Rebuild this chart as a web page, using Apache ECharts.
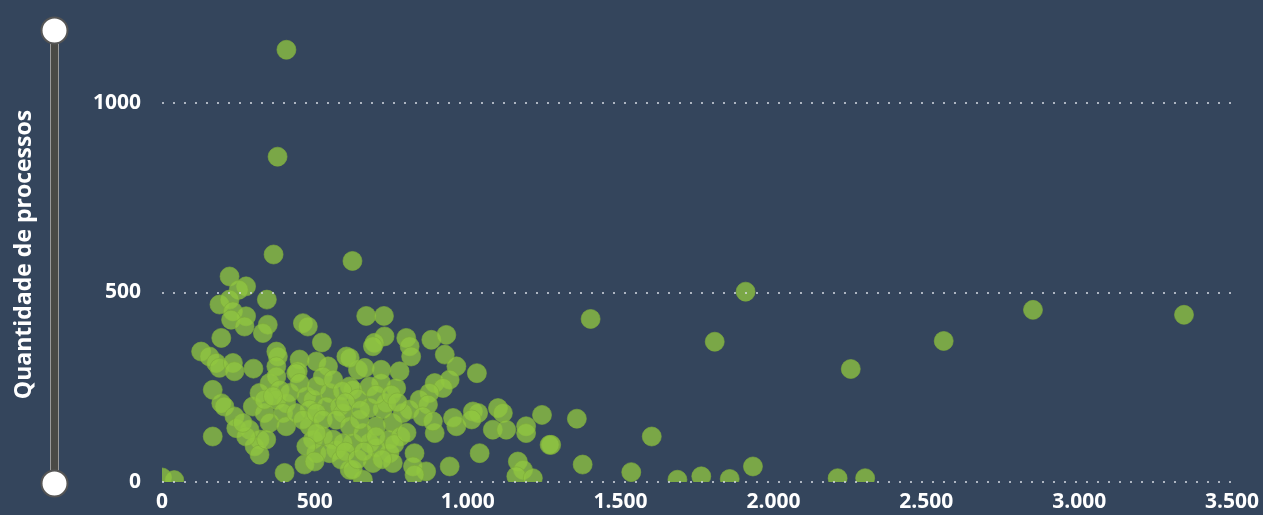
<!DOCTYPE html>
<html>
<head>
  <meta charset="utf-8">
  <title>Quantidade de processos</title>
  <script src="https://cdn.jsdelivr.net/npm/echarts@6/dist/echarts.min.js"></script>
  <style>
    html, body { margin: 0; padding: 0; background: #34455c; }
  </style>
</head>
<body>
<div id="main" style="width: 1263px;height:515px;"></div>

<script type="text/javascript">
  // [x, quantidade]
  var pontos = [
    [407,1140],[378,858],[365,600],[623,583],[1909,502],[1402,430],[1808,370],[2557,372],
    [2849,454],[3343,441],[2253,298],[1602,120],[1357,167],[1273,98],[1376,46],[1535,26],
    [1686,6],[1764,15],[1857,8],[1933,41],[2210,10],[2300,10],[0,12],[40,5],
    [221,542],[275,516],[251,507],[343,481],[188,468],[221,481],[232,450],[275,437],
    [226,428],[270,410],[346,415],[330,393],[461,419],[477,410],[523,368],[194,380],
    [128,344],[155,331],[177,314],[188,301],[232,314],[237,292],[299,299],[374,344],
    [379,331],[374,305],[450,323],[444,292],[505,318],[543,305],[603,331],[641,296],
    [166,243],[194,208],[204,199],[237,173],[243,142],[286,138],[297,199],[335,182],
    [352,156],[319,112],[303,94],[319,72],[341,112],[166,120],[352,261],[374,278],
    [385,243],[374,217],[406,208],[396,182],[417,235],[406,147],[439,287],[450,261],
    [472,226],[494,217],[483,191],[505,252],[526,278],[548,235],[537,199],[581,199],
    [592,182],[614,252],[483,147],[494,112],[526,120],[559,112],[570,85],[505,76],
    [466,46],[401,24],[614,32],
    [319,235],[335,217],[363,226],[439,182],[461,164],[505,182],[526,164],[570,164],
    [614,147],[624,103],[592,103],[505,129],[472,94],[548,76],[586,59],[499,54],
    [275,120],[264,156],
    [668,438],[726,438],[728,384],[695,367],[690,358],[799,380],[810,358],[815,331],
    [881,375],[930,388],[925,336],[963,305],[1030,287],[614,327],[663,301],[717,296],
    [777,292],[766,248],[717,261],[679,252],[624,243],[892,261],[941,270],[919,248],
    [875,235],[843,217],[870,204],[810,191],[853,173],[892,129],[886,160],[963,147],
    [952,169],[1017,186],[1034,182],[1099,195],[1115,182],[1082,138],[1126,138],[1191,147],
    [1191,129],[1243,177],[1268,98],[1039,76],[941,41],[1164,54],[1181,32],[1159,15],
    [1213,10],[864,28],[826,76],[821,41],[826,19],[788,182],[755,156],[744,112],
    [744,76],[755,50],[690,50],[679,103],[657,129],[646,164],[701,147],[722,191],
    [679,195],[657,6],[624,32],[734,208],
    [560,270],[590,240],[640,220],[600,210],[650,190],[700,230],[750,230],[770,210],
    [780,120],[700,90],[720,60],[760,100],[800,130],[600,80],[640,60],[660,80],
    [700,120],[1013,165]
  ];
  var yMax = 1200;
  var yStep = 500;
  var xMax = 3500;
  var xStep = 500;

  var fundo = '#34455c';
  var fonte = '"Open Sans", "Noto Sans", sans-serif';

  var myChart = echarts.init(document.getElementById('main'));

  var option = {
    backgroundColor: fundo,
    animation: false,
    grid: { left: 162, right: 31, top: 27, bottom: 33 },
    xAxis: {
      type: 'value',
      min: 0,
      max: xMax,
      interval: xStep,
      z: 60,
      axisLine: { show: false },
      axisTick: { show: false },
      splitLine: { show: false },
      axisLabel: {
        color: '#fff',
        fontWeight: 'bold',
        fontSize: 21,
        fontFamily: fonte,
        margin: 10,
        formatter: function (v) {
          return String(v).replace(/\B(?=(\d{3})+(?!\d))/g, '.');
        }
      }
    },
    yAxis: {
      type: 'value',
      min: 0,
      max: yMax,
      interval: yStep,
      z: 60,
      name: 'Quantidade de processos',
      nameLocation: 'middle',
      nameGap: 126,
      nameTextStyle: { color: '#fff', fontWeight: 'bold', fontSize: 23, fontFamily: fonte },
      axisLine: { show: false },
      axisTick: { show: false },
      axisLabel: {
        color: '#fff',
        fontWeight: 'bold',
        fontSize: 21,
        fontFamily: fonte,
        margin: 21,
        showMaxLabel: false,
        formatter: function (v) { return String(v); }
      },
      splitLine: {
        show: true,
        showMaxLine: false,
        lineStyle: { color: 'rgba(215,220,228,0.75)', width: 2, type: [2, 9] }
      }
    },
    dataZoom: [{
      type: 'slider',
      yAxisIndex: 0,
      orient: 'vertical',
      left: 49,
      width: 9,
      top: 27,
      bottom: 33,
      z: 60,
      start: 0,
      end: 100,
      filterMode: 'none',
      showDetail: false,
      brushSelect: false,
      moveHandleSize: 0,
      backgroundColor: '#4a4a46',
      borderColor: '#9a9a9a',
      borderRadius: 0,
      fillerColor: '#4a4a46',
      dataBackground: { lineStyle: { opacity: 0 }, areaStyle: { opacity: 0 } },
      selectedDataBackground: { lineStyle: { opacity: 0 }, areaStyle: { opacity: 0 } },
      handleIcon: 'circle',
      handleSize: 26,
      handleStyle: { color: '#fff', borderColor: '#555', borderWidth: 2 }
    }],
    graphic: [
      // esconde as partes dos círculos fora da área do gráfico
      { type: 'rect', z: 50, silent: true, shape: { x: 145, y: 482, width: 1118, height: 33 }, style: { fill: fundo } },
      { type: 'rect', z: 50, silent: true, shape: { x: 142, y: 0, width: 20, height: 482 }, style: { fill: fundo } }
    ],
    series: [{
      type: 'scatter',
      symbolSize: 19,
      data: pontos,
      itemStyle: {
        color: 'rgba(145,199,64,0.95)',
        borderColor: 'rgba(125,170,60,0.8)',
        borderWidth: 1
      }
    }]
  };
  myChart.setOption(option);
</script>
</body>
</html>
